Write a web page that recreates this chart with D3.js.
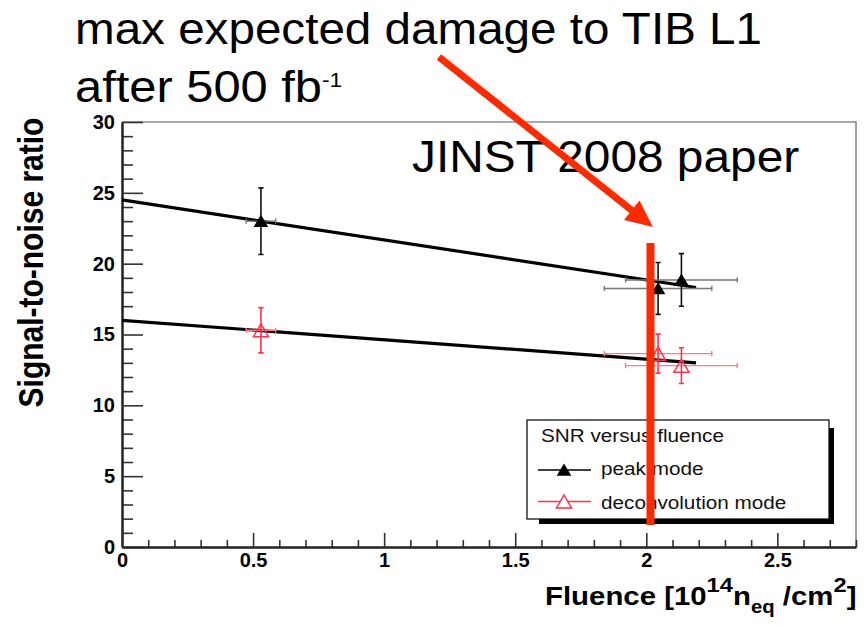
<!DOCTYPE html>
<html><head><meta charset="utf-8">
<script src="https://cdn.jsdelivr.net/npm/d3@7"></script>
<style>
html,body{margin:0;padding:0;background:#fff;}
svg{display:block;font-family:"Liberation Sans",Arial,Helvetica,sans-serif;}
</style>
</head><body>
<svg id="chart" width="868" height="625"></svg>
<script>
// Fluence of the irradiated modules [10^14 n_eq/cm^2] and its uncertainty
const fluence = [0.53, 2.045, 2.134];
const fluenceErr = [0.056, 0.205, 0.213];
// Signal-to-noise ratio, peak mode
const peakSNR = [23.0, 18.25, 18.85];
const peakErr = [2.35, 1.83, 1.86];
// Signal-to-noise ratio, deconvolution mode
const deconvSNR = [15.3, 13.65, 12.8];
const deconvErr = [1.6, 1.38, 1.26];
// Linear fits (value at both ends of the fit range)
const fitRange = [0, 2.19];
const peakFit = [24.5, 18.32];
const deconvFit = [16.0, 13.0];
// Axis ticks
const xTicks = [0, 0.5, 1, 1.5, 2, 2.5];
const yTicks = [0, 5, 10, 15, 20, 25, 30];
const xMinor = d3.range(0, 2.81, 0.1).map(v => +v.toFixed(1)).filter(v => !xTicks.includes(v));
const yMinor = d3.range(0, 31, 1).filter(v => !yTicks.includes(v));
// Expected fluence for TIB layer 1 and the arrow pointing at it
const markFluence = 2.016;
const markSNR = [1.55, 21.46];
const arrowFrom = [1.209, 34.59];
const arrowTo = [2.025, 22.59];

const svg = d3.select("#chart");
const frame = {l: 122, r: 856, t: 122, b: 547};

const x = d3.scaleLinear().domain([0, 2.8]).range([frame.l, frame.r]);
const y = d3.scaleLinear().domain([0, 30]).range([frame.b, frame.t]);

const RED = "#ff2a00";
const PINK = "#ff3048";

// frame (top and right)
svg.append("path")
  .attr("d", `M${frame.l},${frame.t}H${frame.r}V${frame.b}`)
  .attr("fill", "none").attr("stroke", "#555").attr("stroke-width", 1.1);

function styleAxis(g) {
  g.selectAll(".domain").attr("stroke", "#222").attr("stroke-width", 2);
  g.selectAll(".tick line").attr("stroke", "#333").attr("stroke-width", 1.6);
}

// y axis: major + minor ticks pointing inwards
svg.append("g").attr("transform", `translate(${frame.l},0)`)
  .call(d3.axisLeft(y).tickValues(yMinor).tickSize(-11).tickSizeOuter(0).tickFormat(""))
  .call(styleAxis);
const gy = svg.append("g").attr("transform", `translate(${frame.l},0)`)
  .call(d3.axisLeft(y).tickValues(yTicks).tickSize(-21).tickSizeOuter(0).tickPadding(7)
    .tickFormat(d3.format("~g")))
  .call(styleAxis);
gy.selectAll("text").attr("font-size", 20).attr("font-weight", "bold").attr("fill", "#000")
  .attr("font-family", "'Liberation Sans',Arial,sans-serif");

// x axis
svg.append("g").attr("transform", `translate(0,${frame.b})`)
  .call(d3.axisBottom(x).tickValues(xMinor).tickSize(-7).tickSizeOuter(0).tickFormat(""))
  .call(styleAxis);
const gx = svg.append("g").attr("transform", `translate(0,${frame.b})`)
  .call(d3.axisBottom(x).tickValues(xTicks).tickSize(-14).tickSizeOuter(0).tickPadding(6)
    .tickFormat(d3.format("~g")))
  .call(styleAxis);
gx.selectAll("text").attr("font-size", 20).attr("font-weight", "bold").attr("fill", "#000")
  .attr("font-family", "'Liberation Sans',Arial,sans-serif");

// axis titles
svg.append("text")
  .attr("transform", "translate(43,262.5) scale(1.15,1) rotate(-90)")
  .attr("text-anchor", "middle").attr("font-size", 30).attr("font-weight", "bold")
  .text("Signal-to-noise ratio");

const xt = svg.append("text")
  .attr("transform", "translate(545,605) scale(1.13,1)")
  .attr("font-size", 26).attr("font-weight", "bold");
xt.append("tspan").text("Fluence [10");
xt.append("tspan").attr("font-size", 21).attr("dy", -13).text("14");
xt.append("tspan").attr("dy", 13).text("n");
xt.append("tspan").attr("font-size", 18).attr("dy", 8).text("eq");
xt.append("tspan").attr("dy", -8).text(" /cm");
xt.append("tspan").attr("font-size", 21).attr("dy", -13).text("2");
xt.append("tspan").attr("dy", 13).text("]");

// fit lines
const line = d3.line().x(d => x(d[0])).y(d => y(d[1]));
[peakFit, deconvFit].forEach(f => {
  svg.append("path")
    .attr("d", line(fitRange.map((fx, i) => [fx, f[i]])))
    .attr("fill", "none").attr("stroke", "#000").attr("stroke-width", 3.2)
    .attr("stroke-linecap", "butt");
});

function tri(w, h) {
  return `M0,${-h / 2}L${w / 2},${h / 2}L${-w / 2},${h / 2}Z`;
}

function drawSeries(vals, errs, vColor, hColor, markerPath, fill, stroke) {
  const g = svg.append("g");
  const cap = 2.6;
  fluence.forEach((fx, i) => {
    const cx = x(fx), cy = y(vals[i]);
    const x0 = x(fx - fluenceErr[i]), x1 = x(fx + fluenceErr[i]);
    const y0 = y(vals[i] - errs[i]), y1 = y(vals[i] + errs[i]);
    // horizontal error bar
    g.append("path")
      .attr("d", `M${x0},${cy}H${x1}M${x0},${cy - cap}V${cy + cap}M${x1},${cy - cap}V${cy + cap}`)
      .attr("stroke", hColor).attr("stroke-width", 1.4).attr("fill", "none");
    // vertical error bar
    g.append("path")
      .attr("d", `M${cx},${y0}V${y1}M${cx - cap},${y0}H${cx + cap}M${cx - cap},${y1}H${cx + cap}`)
      .attr("stroke", vColor).attr("stroke-width", 1.6).attr("fill", "none");
    g.append("path").attr("d", markerPath)
      .attr("transform", `translate(${cx},${cy})`)
      .attr("fill", fill).attr("stroke", stroke).attr("stroke-width", 1.5);
  });
}
drawSeries(peakSNR, peakErr, "#111", "#777", tri(12, 10), "#000", "#000");
drawSeries(deconvSNR, deconvErr, PINK, "#ff7a88", tri(15, 13), "none", PINK);

// legend
const lg = svg.append("g");
const L = {x: 527, y: 420, w: 302, h: 99};
lg.append("rect").attr("x", L.x + L.w).attr("y", L.y + 8).attr("width", 5).attr("height", L.h - 3).attr("fill", "#000");
lg.append("rect").attr("x", L.x + 12).attr("y", L.y + L.h).attr("width", L.w - 7).attr("height", 5).attr("fill", "#000");
lg.append("rect").attr("x", L.x).attr("y", L.y).attr("width", L.w).attr("height", L.h)
  .attr("fill", "#fff").attr("stroke", "#000").attr("stroke-width", 1.2);
lg.append("text").attr("transform", "translate(541,442) scale(1.12,1)")
  .attr("font-size", 18.5).attr("fill", "#111").text("SNR versus fluence");
const entries = [
  {label: "peak mode", ly: 470, ty: 475, color: "#000", marker: tri(12, 10), fill: "#000"},
  {label: "deconvolution mode", ly: 501.5, ty: 509, color: PINK, marker: tri(15, 13), fill: "#fff"}
];
entries.forEach(e => {
  lg.append("line").attr("x1", 538).attr("x2", 591).attr("y1", e.ly).attr("y2", e.ly)
    .attr("stroke", e.color).attr("stroke-width", 1.4);
  lg.append("path").attr("d", e.marker).attr("transform", `translate(564,${e.ly})`)
    .attr("fill", e.fill).attr("stroke", e.color).attr("stroke-width", 1.5);
  lg.append("text").attr("transform", `translate(601,${e.ty}) scale(1.12,1)`)
    .attr("font-size", 18.5).attr("fill", "#111").text(e.label);
});

// annotation texts
svg.append("text").attr("transform", "translate(75,44) scale(1.058,1)")
  .attr("font-size", 45).attr("fill", "#000").text("max expected damage to TIB L1");
const t2 = svg.append("text").attr("transform", "translate(75,102) scale(1.085,1)")
  .attr("font-size", 45).attr("fill", "#000");
t2.append("tspan").text("after 500 fb");
t2.append("tspan").attr("font-size", 21).attr("dy", -15).text("-1");
svg.append("text").attr("transform", "translate(412,172) scale(1.087,1)")
  .attr("font-size", 44).attr("fill", "#000").text("JINST 2008 paper");

// vertical marker at the expected fluence
svg.append("line")
  .attr("x1", x(markFluence)).attr("x2", x(markFluence))
  .attr("y1", y(markSNR[0])).attr("y2", y(markSNR[1]))
  .attr("stroke", RED).attr("stroke-width", 8);

// arrow
const ax0 = x(arrowFrom[0]), ay0 = y(arrowFrom[1]);
const ax1 = x(arrowTo[0]), ay1 = y(arrowTo[1]);
const ang = Math.atan2(ay1 - ay0, ax1 - ax0);
const headLen = 27, headHalf = 12.5;
const bx = ax1 - headLen * Math.cos(ang), by = ay1 - headLen * Math.sin(ang);
svg.append("line").attr("x1", ax0).attr("y1", ay0).attr("x2", bx + 2 * Math.cos(ang)).attr("y2", by + 2 * Math.sin(ang))
  .attr("stroke", RED).attr("stroke-width", 7);
svg.append("path")
  .attr("d", `M${ax1},${ay1}L${bx - headHalf * Math.sin(ang)},${by + headHalf * Math.cos(ang)}L${bx + headHalf * Math.sin(ang)},${by - headHalf * Math.cos(ang)}Z`)
  .attr("fill", RED);
</script>
</body></html>
